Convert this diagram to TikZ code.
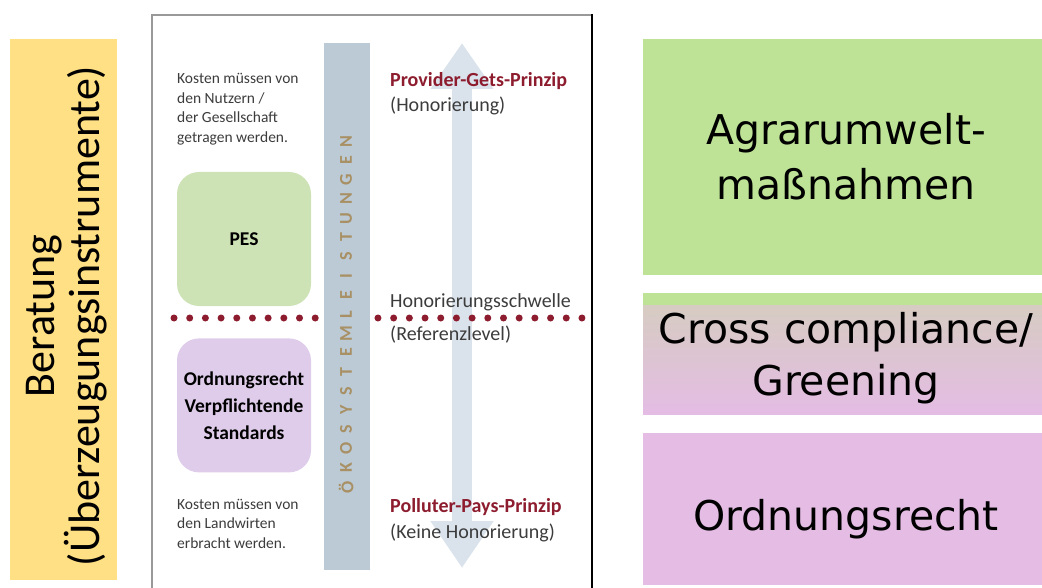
\documentclass[tikz,border=0pt]{standalone}
\usepackage{fontspec}
\setmainfont{Carlito}
\newfontfamily\boxfont{DejaVu Sans}
\usepackage{tikz}
\usetikzlibrary{positioning, arrows.meta}
\definecolor{beratgelb}{HTML}{FFE085}
\definecolor{aumgruen}{HTML}{BEE396}
\definecolor{ordpink}{HTML}{E4BCE4}
\definecolor{ccgrau}{HTML}{D6CCC2}
\definecolor{pesgruen}{HTML}{CDE2B5}
\definecolor{ordlila}{HTML}{DFCCEA}
\definecolor{balken}{HTML}{BCCAD6}
\definecolor{pfeilgrau}{HTML}{DAE2EB}
\definecolor{prinziprot}{HTML}{8C1C2E}
\definecolor{goldbraun}{HTML}{A89064}
\definecolor{textgrau}{HTML}{3C3C3C}

\begin{document}
\begin{tikzpicture}[x=1pt,y=-1pt,every node/.style={inner sep=0pt},
    kosten/.style={font=\fontsize{15.5}{19.5}\selectfont,text=textgrau,align=left,anchor=base west},
    prinzip/.style={font=\fontsize{20}{25}\selectfont,text=textgrau,align=left,anchor=base west},
    instrument/.style={minimum width=134pt,minimum height=134pt,rounded corners=22pt,
        font=\fontsize{19.5}{27}\selectfont\bfseries,align=center},
    massnahme/.style={font=\boxfont\fontsize{41}{54}\selectfont,align=center,anchor=base},
    buchst/.style={font=\fontsize{18}{18}\selectfont\bfseries,text=goldbraun,rotate=90},
    pfeil/.style={line width=20pt,draw=pfeilgrau,{Triangle[width=60pt,length=47pt]}-{Triangle[width=60pt,length=46pt]}},
    schwelle/.style={line width=7pt,draw=prinziprot,line cap=round,dash pattern=on 0pt off 15.69pt}]
    \useasboundingbox (0,0) rectangle (1042,588);

    \fill[beratgelb] (10,39) rectangle (117,580);
    \node[font=\fontsize{44}{45}\selectfont,align=center,rotate=90] (berat) at (67,316)
        {Beratung\\(Überzeugungsinstrumente)};

    \draw[gray!80,line width=1.5pt] (152,588) -- (152,15) -- (592,15);
    \draw[line width=2.5pt] (592,14) -- (592,588);

    \coordinate (oben) at (462,43);
    \coordinate (unten) at (462,568);
    \draw[pfeil] (unten) -- (oben);

    \coordinate (sL) at (174,318);
    \coordinate (sR) at (582,318);
    \draw[schwelle] (sL) -- (sR);

    \fill[balken] (324,43) rectangle (370,570);
    \foreach \ch [count=\i] in {Ö,K,O,S,Y,S,T,E,M,L,E,I,S,T,U,N,G,E,N}
        \node[buchst] (oeko\i) at (346,{506.2-19.2*\i}) {\ch};

    \node[instrument,fill=pesgruen] (pes) at (244,239) {PES};
    \node[instrument,fill=ordlila,below=32pt of pes] (ord) {Ordnungsrecht\\Verpflichtende\\Standards};

    \node[kosten] (kostNutzer) at (177,142.5) {Kosten müssen von\\den Nutzern /\\der Gesellschaft\\getragen werden.};
    \node[kosten] (kostLandw) at (177,548) {Kosten müssen von\\den Landwirten\\erbracht werden.};

    \node[prinzip] (provider) at (390,112) {\textbf{\textcolor{prinziprot}{Provider-Gets-Prinzip}}\\(Honorierung)};
    \node[prinzip,font=\fontsize{20}{33}\selectfont] (ref) at (390,340) {Honorierungsschwelle\\(Referenzlevel)};
    \node[prinzip,font=\fontsize{20}{26}\selectfont] (polluter) at (390,538) {\textbf{\textcolor{prinziprot}{Polluter-Pays-Prinzip}}\\(Keine Honorierung)};

    \fill[aumgruen] (643,39) rectangle (1042,275);
    \fill[aumgruen] (643,293) rectangle (1042,306);
    \shade[top color=ccgrau,bottom color=ordpink] (643,305) rectangle (1042,414);
    \fill[ordpink] (643,433) rectangle (1042,585);
    \node[massnahme,font=\boxfont\fontsize{41}{55}\selectfont] (aum) at (846,200) {Agrarumwelt-\\maßnahmen};
    \node[massnahme,font=\boxfont\fontsize{41}{52}\selectfont] (cc) at (846,395) {Cross compliance/\\Greening};
    \node[massnahme] (ordr) at (846,530) {Ordnungsrecht};
\end{tikzpicture}
\end{document}
